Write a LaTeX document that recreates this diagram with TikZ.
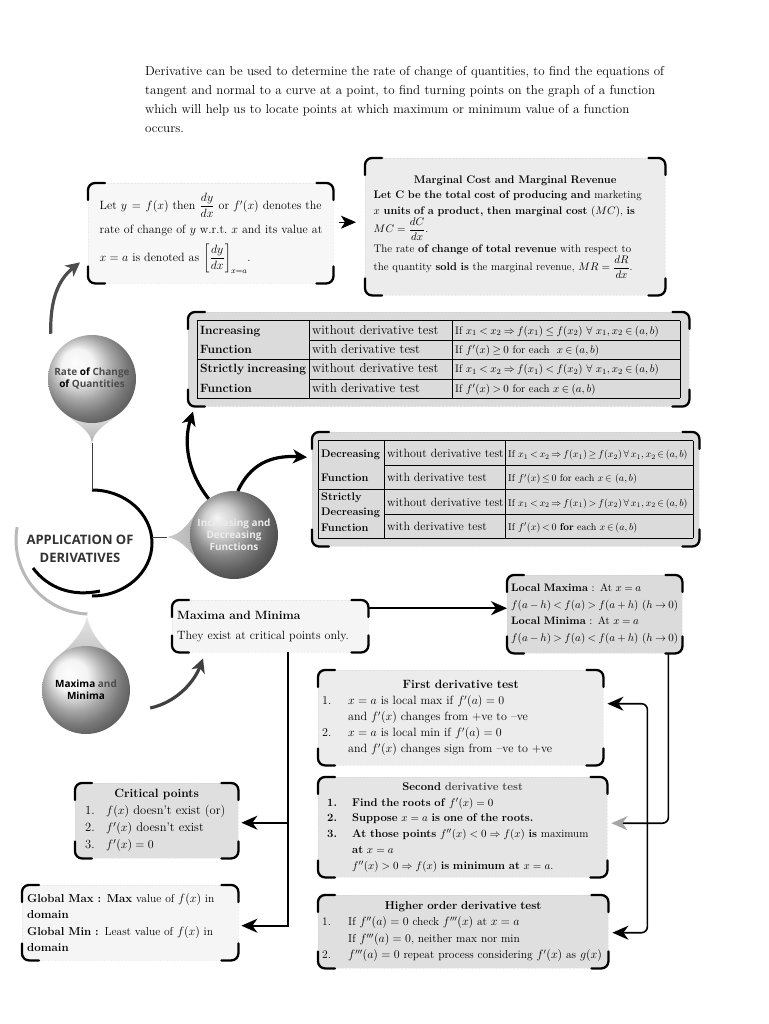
\documentclass[tikz,border=0pt]{standalone}
\usepackage{amsmath,amssymb}
\usepackage{fontspec}
\newfontfamily\circfont{Open Sans}
\usetikzlibrary{arrows.meta,calc}
\newcommand{\boxcorners}[1]{%
  \draw[crn] ([yshift=-17pt]#1.north west) |- ([xshift=17pt]#1.north west);
  \draw[crn] ([xshift=-17pt]#1.north east) -| ([yshift=-17pt]#1.north east);
  \draw[crn] ([yshift=17pt]#1.south east) |- ([xshift=-17pt]#1.south east);
  \draw[crn] ([xshift=17pt]#1.south west) -| ([yshift=17pt]#1.south west);}
\newcommand{\tcell}[2]{\makebox[#1][l]{#2}}
\newcommand{\jline}[2]{\makebox[#1][s]{#2}}
\newcommand{\fsz}[2]{\fontsize{#1}{#2}\selectfont}
\begin{document}
\begin{tikzpicture}[x=1pt,y=-1pt,
  cbox/.style={draw=gray!60, densely dotted, fill=#1, rounded corners=7pt, anchor=north west, inner xsep=6pt, inner ysep=3pt},
  crn/.style={line width=2.3pt, rounded corners=7pt, line cap=round},
  conn/.style={line width=1.6pt, -{Stealth[length=16pt,width=14pt,inset=5pt]}},
  bigarrow/.style={line width=3.2pt, -{Stealth[length=14pt,width=14pt,inset=4pt]}},
  ballt/.style={circle, minimum size=88pt, inner sep=0pt, shade, ball color=#1, align=center, font=\circfont\bfseries\fontsize{10}{12}\selectfont},
  drop/.style={top color=gray!25, bottom color=gray!60}]
\useasboundingbox (0,0) rectangle (768,1024);

% intro
\node[anchor=north west, text width=515pt, align=left, inner sep=0pt, font=\fsz{13}{19}] (intro) at (145,66)
{\jline{515pt}{Derivative can be used to determine the rate of change of quantities, to find the equations of}\\
\jline{515pt}{tangent and normal to a curve at a point, to find turning points on the graph of a function}\\
\jline{515pt}{which will help us to locate points at which maximum or minimum value of a function}\\
occurs.};

% box A
\node[cbox=gray!6, minimum width=245pt, minimum height=100pt, text width=222pt, inner xsep=11.5pt, align=left, font=\fsz{12}{15}] (A) at (88,183)
{\jline{222pt}{Let $y=f(x)$ then $\dfrac{dy}{dx}$ or $f'(x)$ denotes the}\\[6pt]
\jline{222pt}{rate of change of $y$ w.r.t.\ $x$ and its value at}\\[7pt]
$x=a$ is denoted as $\left[\dfrac{dy}{dx}\right]_{x=a}$.};
\boxcorners{A}

% box B
\node[cbox=gray!15, minimum width=300pt, minimum height=137pt, text width=283pt, inner xsep=8.5pt, align=left, font=\fsz{11}{15.5}] (B) at (365,158)
{\makebox[283pt]{\textbf{Marginal Cost and Marginal Revenue}}\\
\jline{283pt}{\textbf{Let C be the total cost of producing and} marketing}\\
\jline{283pt}{$x$ \textbf{units of a product, then marginal cost} $(MC)$, \textbf{is}}\\
$MC=\dfrac{dC}{dx}$.\\[4pt]
\jline{283pt}{The rate \textbf{of change of total revenue} with respect to}\\
the quantity \textbf{sold is} the marginal revenue, $MR=\dfrac{dR}{dx}$.};
\boxcorners{B}

\draw[line width=1pt, -{Stealth[length=15pt,width=13pt,inset=4pt]}, shorten <=6pt, shorten >=9pt] ([yshift=11pt]A.east) -- ([yshift=11pt]A.east -| B.west);

% table C
\node[cbox=gray!28, inner xsep=9pt, inner ysep=8pt, font=\fsz{13}{13}] (C) at (188,312)
{\setlength{\tabcolsep}{3pt}\renewcommand{\arraystretch}{1.48}%
\begin{tabular}{|l|l|l|}\hline
\tcell{106pt}{\fsz{12}{13}\textbf{Increasing}} & \tcell{137pt}{without derivative test} & \tcell{222pt}{\fsz{11}{13}\thickmuskip=4mu If $x_1<x_2\Rightarrow f(x_1)\le f(x_2)\ \forall\ x_1,x_2\in(a,b)$}\\\cline{2-3}
\tcell{106pt}{\fsz{12}{13}\textbf{Function}} & \tcell{137pt}{with derivative test} & \tcell{222pt}{\fsz{11}{13}\thickmuskip=4mu If $f'(x)\ge 0$ for each\ \ $x\in(a,b)$}\\\hline
\makebox[106pt][s]{\fsz{12}{13}\textbf{Strictly increasing}} & \tcell{137pt}{without derivative test} & \tcell{222pt}{\fsz{11}{13}\thickmuskip=4mu If $x_1<x_2\Rightarrow f(x_1)<f(x_2)\ \forall\ x_1,x_2\in(a,b)$}\\\cline{2-3}
\tcell{106pt}{\fsz{12}{13}\textbf{Function}} & \tcell{137pt}{with derivative test} & \tcell{222pt}{\fsz{11}{13}\thickmuskip=4mu If $f'(x)>0$ for each $x\in(a,b)$}\\\hline
\end{tabular}};
\boxcorners{C}

% table D
\node[cbox=gray!28, inner xsep=6pt, inner ysep=8pt, font=\fsz{12}{14}] (D) at (312,432)
{\setlength{\tabcolsep}{3pt}\renewcommand{\arraystretch}{1.73}%
\begin{tabular}{|l|l|l|}\hline
\tcell{60pt}{\fsz{11}{14}\textbf{Decreasing}} & \tcell{115pt}{without derivative test} & \tcell{182pt}{\fsz{10}{14}\thickmuskip=3mu\medmuskip=2mu If $x_1<x_2\Rightarrow f(x_1)\ge f(x_2)\,\forall\,x_1,x_2\in(a,b)$}\\\cline{2-3}
\tcell{60pt}{\fsz{11}{14}\textbf{Function}} & \tcell{115pt}{with derivative test} & \tcell{182pt}{\fsz{10}{14}\thickmuskip=3mu If $f'(x)\le 0$ for each $x\in$ $(a,b)$}\\\hline
\tcell{60pt}{\fsz{11}{13}\def\arraystretch{1.2}\raisebox{6pt}{\smash{\begin{tabular}[t]{@{}l@{}}\textbf{Strictly}\\\textbf{Decreasing}\\\textbf{Function}\end{tabular}}}} & \tcell{115pt}{without derivative test} & \tcell{182pt}{\fsz{10}{14}\thickmuskip=3mu\medmuskip=2mu If $x_1<x_2\Rightarrow f(x_1)>f(x_2)\,\forall\,x_1,x_2\in(a,b)$}\\\cline{2-3}
\tcell{60pt}{} & \tcell{115pt}{with derivative test} & \tcell{182pt}{\fsz{10}{14}\thickmuskip=3mu If $f'(x)<0$ \textbf{for} each $x\in(a,b)$}\\\hline
\end{tabular}};
\boxcorners{D}

% box E
\node[cbox=gray!8, minimum width=196pt, minimum height=52pt, text width=186pt, inner xsep=5pt, align=left, font=\fsz{12}{14}] (E) at (172,600)
{\textbf{Maxima and Minima}\\[6pt] They exist at critical points only.};
\boxcorners{E}

% box F
\node[cbox=gray!28, minimum width=175pt, minimum height=78pt, text width=167pt, inner xsep=4pt, align=left, font=\fsz{10.8}{16.5}] (F) at (507,575)
{\thickmuskip=4mu\textbf{Local Maxima} : At $x=a$\\
$f(a-h)<f(a)>f(a+h)\ (h\to 0)$\\
\textbf{Local Minima} : At $x=a$\\
$f(a-h)>f(a)<f(a+h)\ (h\to 0)$};
\boxcorners{F}

% box G
\node[cbox=gray!15, minimum width=285pt, minimum height=95pt, text width=277pt, inner xsep=4pt, align=left, font=\fsz{12}{16}] (G) at (318,670)
{\makebox[277pt]{\textbf{First derivative test}}\\
\makebox[26pt][l]{1.}$x=a$ is local max if $f'(a)=0$\\
\hspace*{26pt}and $f'(x)$ changes from +ve to --ve\\
\makebox[26pt][l]{2.}$x=a$ is local min if $f'(a)=0$\\
\hspace*{26pt}and $f'(x)$ changes sign from --ve to +ve};
\boxcorners{G}

% box H
\node[cbox=gray!20, minimum width=289pt, minimum height=100pt, text width=277pt, inner xsep=6pt, align=left, font=\fsz{11.2}{15.8}] (H) at (318,777)
{\makebox[277pt]{\textbf{Second} {\color{gray!55!black}\textbf{derivative test}}}\\
\makebox[28pt][l]{\hspace{3pt}\textbf{1.}}\textbf{Find the roots of} $f'(x)=0$\\
\makebox[28pt][l]{\hspace{3pt}\textbf{2.}}\textbf{Suppose} $x=a$ \textbf{is one of the roots.}\\
\makebox[28pt][l]{\hspace{3pt}\textbf{3.}}\textbf{At those points} $f''(x)<0\Rightarrow f(x)$ \textbf{is} maximum\\
\hspace*{28pt}\textbf{at} $x=a$\\
\hspace*{28pt}$f''(x)>0\Rightarrow f(x)$ \textbf{is minimum at} $x=a$.};
\boxcorners{H}

% box I
\node[cbox=gray!25, minimum width=163pt, minimum height=75pt, text width=151pt, inner xsep=6pt, align=left, font=\fsz{12.5}{17}] (I) at (75,783)
{\makebox[151pt]{\fsz{12}{17}\textbf{Critical points}}\\
\makebox[25pt][l]{\hspace{4pt}1.}$f(x)$ doesn't exist (or)\\
\makebox[25pt][l]{\hspace{4pt}2.}$f'(x)$ doesn't exist\\
\makebox[25pt][l]{\hspace{4pt}3.}$f'(x)=0$};
\boxcorners{I}

% box J
\node[cbox=gray!8, minimum width=216pt, minimum height=75pt, text width=206pt, inner xsep=5pt, align=left, font=\fsz{11.5}{16.5}] (J) at (22,885)
{\jline{206pt}{\textbf{Global Max : Max} value of $f(x)$ in}\\
\textbf{domain}\\
\jline{206pt}{\textbf{Global Min :} Least value of $f(x)$ in}\\
\textbf{domain}};
\boxcorners{J}

% box K
\node[cbox=gray!25, minimum width=290pt, minimum height=73pt, text width=282pt, inner xsep=4pt, align=left, font=\fsz{11.5}{16.5}] (K) at (318,895)
{\makebox[282pt]{\textbf{Higher order derivative test}}\\
\makebox[26pt][l]{1.}If $f''(a)=0$ check $f'''(x)$ at $x=a$\\
\hspace*{26pt}If $f'''(a)=0$, neither max nor min\\
\mbox{\makebox[26pt][l]{2.}$f'''(a)=0$ repeat process considering $f'(x)$ as $g(x)$}};
\boxcorners{K}

% connectors on the right
\draw[conn] ([yshift=18pt]E.east) -- ([yshift=18pt]E.east -| F.west);
\draw[line width=1.6pt, rounded corners=6pt, -{Stealth[length=16pt,width=14pt,inset=5pt,color=gray!70]}] ([xshift=-14pt]F.south east) |- ([xshift=4pt,yshift=4pt]H.east);
\draw[line width=1.6pt, rounded corners=6pt, {Stealth[length=16pt,width=14pt,inset=5pt]}-{Stealth[length=16pt,width=14pt,inset=5pt]}]
  ([xshift=4pt,yshift=14pt]G.east) -- ([xshift=44pt,yshift=14pt]G.east) |- ([xshift=4pt,yshift=-1pt]K.east);
% connectors on the left
\coordinate (ev) at ([xshift=18pt]E.south);
\draw[conn] (ev) |- ([xshift=3pt,yshift=-3pt]J.east);
\draw[conn] ([yshift=-2pt]ev |- I.east) -- ([xshift=3pt,yshift=-2pt]I.east);

% central figure: arcs and stems
\draw[line width=3pt, gray!55] (90,540) ++(190:74) arc[start angle=190, end angle=92, radius=74];
\draw[line width=3pt] (92,490) arc[start angle=-90, end angle=90, x radius=60, y radius=53];
\draw[line width=3pt] (33,568) .. controls (48,588) and (72,597) .. (100,591);
\draw[line width=0.9pt, black!75] (92,443) -- (92,490);
\draw[line width=0.9pt, black!75] (152,537) -- (167,537);

% teardrops
\shade[drop] (66.8,415) .. controls (78,425) and (90,430) .. (92,443) .. controls (94,430) and (106,425) .. (117.2,415) -- cycle;
\shade[left color=gray!40, right color=gray!60] (198,510) .. controls (188,525) and (180,535) .. (167,537) .. controls (180,539) and (188,549) .. (198,560) -- cycle;
\shade[top color=gray!20, bottom color=gray!45] (60.8,654) .. controls (72,644) and (84,632) .. (87,616) .. controls (90,632) and (100,644) .. (111.2,654) -- cycle;

% balls
\node[ballt=gray!12] (rate) at (92,379) {{\color{gray!60!black}Rate} of {\color{gray!60!black}Change}\\of {\color{gray!60!black}Quantities}};
\node[ballt=gray!50, text=gray!15] (incdec) at (234,535) {Increasing and\\Decreasing\\Functions};
\node[ballt=gray!12] (maxc) at (86,690) {Maxima {\color{gray!60!black}and}\\Minima};
\node[font=\circfont\bfseries\fontsize{13}{18}\selectfont, align=center, text=black!80] (app) at (80,549) {APPLICATION OF\\DERIVATIVES};

% curved arrows
\draw[bigarrow, black!70] ([xshift=-10pt,yshift=14pt]rate.north west) .. controls (50,300) and (58,280) .. ([xshift=-8pt,yshift=21pt]A.south west);
\draw[bigarrow] (incdec.125) .. controls (186,470) and (184,440) .. ([xshift=5pt,yshift=-5pt]C.south west);
\draw[bigarrow] (incdec.85) .. controls (250,465) and (270,455) .. ([xshift=-5pt,yshift=32pt]D.west);
\draw[bigarrow, black!75] ([xshift=20pt,yshift=-18pt]maxc.east) .. controls (178,702) and (195,680) .. ([xshift=31pt,yshift=-6pt]E.south west);
\end{tikzpicture}
\end{document}
